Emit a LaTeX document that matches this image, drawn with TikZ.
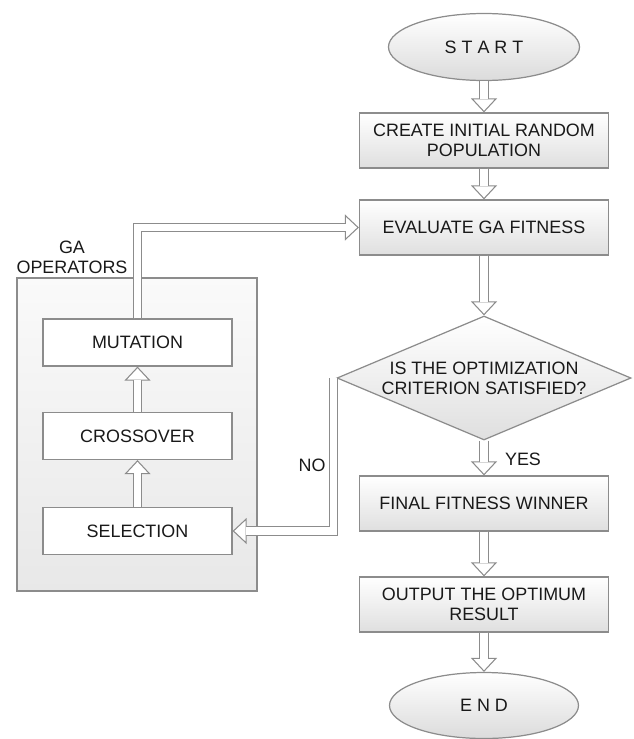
\documentclass[tikz,border=0pt]{standalone}
\usepackage{fontspec}
\setmainfont{Liberation Sans}
\usetikzlibrary{shapes.geometric,arrows.meta}

\newcommand{\chartfont}{\fontsize{10.2pt}{11.4pt}\selectfont}

\tikzset{
    box/.style={draw=black!45, line width=0.7pt, top color=white, bottom color=gray!25, text=black!90,
        minimum width=4.98cm, minimum height=1.1cm, align=center, inner sep=1pt},
    opbox/.style={draw=black!45, line width=0.7pt, fill=white, text=black!90,
        minimum width=3.78cm, minimum height=0.94cm, inner sep=1pt},
    term/.style={ellipse, draw=black!45, line width=0.7pt, top color=white, bottom color=gray!28,
        text=black!90, inner sep=0pt},
    decision/.style={diamond, aspect=2.37, draw=black!45, line width=0.7pt, top color=white, bottom color=gray!25,
        text=black!90, align=center, inner sep=0pt, minimum width=5.88cm, minimum height=2.48cm},
    flow/.style={draw=black!45, line width=0.6pt, double=white, double distance=0.15cm,
        -{Triangle[length=0.28cm, width=0.52cm, fill=white, line width'=0.6pt]},
        postaction={draw=white, line width=0.15cm, -, shorten >=0.26cm}},
}

\begin{document}
\begin{tikzpicture}[every node/.style={font=\chartfont}]
                \useasboundingbox (0,0) rectangle (12.66,-14.78);
                % main column
                \node[term, minimum width=3.82cm, minimum height=1.34cm] (start) at (9.68,-0.94) {S T A R T};
                \node[box] (create) at (9.68,-2.81) {CREATE INITIAL RANDOM\\POPULATION};
                \node[box] (eval) at (9.68,-4.55) {EVALUATE GA FITNESS};
                \node[decision] (check) at (9.68,-7.56) {IS THE OPTIMIZATION\\CRITERION SATISFIED?};
                \node[box] (final) at (9.68,-10.07) {FINAL FITNESS WINNER};
                \node[box] (output) at (9.68,-12.09) {OUTPUT THE OPTIMUM\\RESULT};
                \node[term, minimum width=3.78cm, minimum height=1.32cm] (end) at (9.68,-14.11) {E N D};
                % operators block
                \node[draw=black!45, line width=0.7pt, top color=gray!4, bottom color=gray!18,
                    minimum width=4.8cm, minimum height=6.26cm] (ops) at (2.74,-8.69) {};
                \node[align=center, text=black!90] (opslabel) at (1.44,-5.14) {GA\\OPERATORS};
                \node[opbox] (mut) at (2.75,-6.85) {MUTATION};
                \node[opbox] (cross) at (2.75,-8.72) {CROSSOVER};
                \node[opbox] (sel) at (2.75,-10.62) {SELECTION};
                \node[text=black!90] (yes) at (10.46,-9.18) {YES};
                \node[text=black!90] (no) at (6.24,-9.30) {NO};
                % connectors
                \draw[flow] (start) -- (create);
                \draw[flow] (create) -- (eval);
                \draw[flow] (eval) -- (check);
                \draw[flow] (check) -- (final);
                \draw[flow] (final) -- (output);
                \draw[flow] (output) -- (end);
                \draw[flow] (sel) -- (cross);
                \draw[flow] (cross) -- (mut);
                \draw[flow] (mut) |- (eval);
                \draw[flow] ([xshift=-0.06cm]check.west) |- (sel);
            \end{tikzpicture}
\end{document}
